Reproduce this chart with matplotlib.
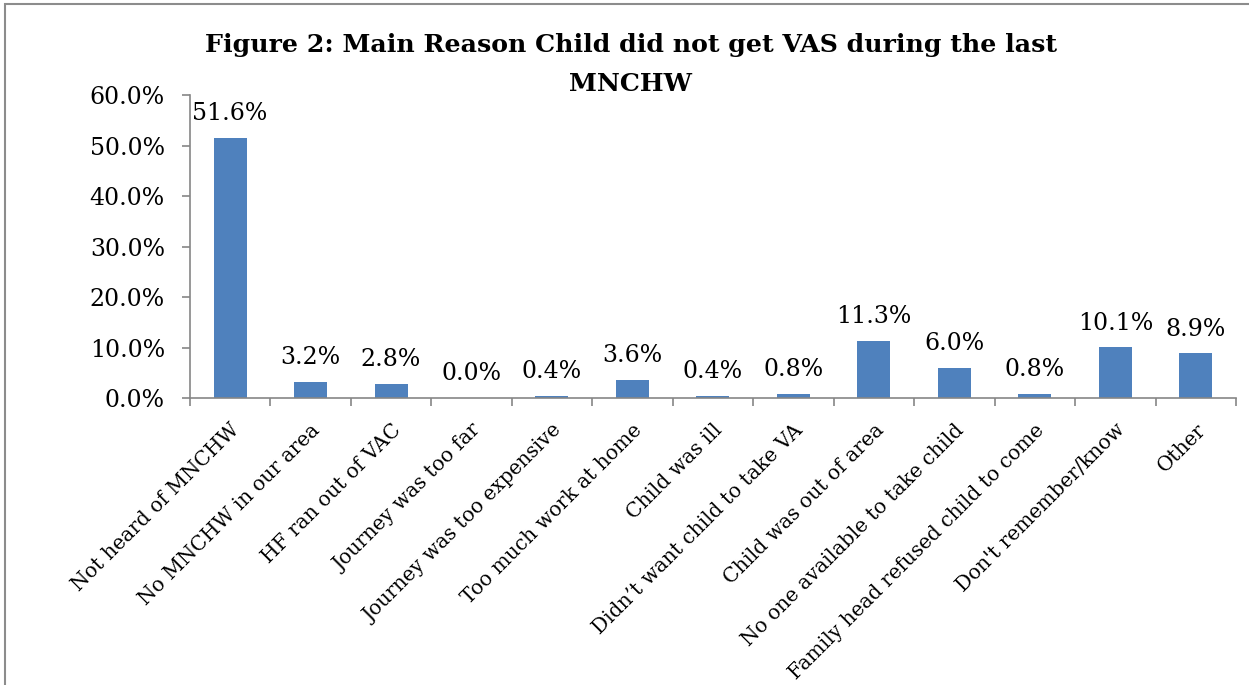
import matplotlib.pyplot as plt
import matplotlib.patches as mpatches
import numpy as np

# --- Data ---
reasons = [
    "Not heard of MNCHW",
    "No MNCHW in our area",
    "HF ran out of VAC",
    "Journey was too far",
    "Journey was too expensive",
    "Too much work at home",
    "Child was ill",
    "Didn\u2019t want child to take VA",
    "Child was out of area",
    "No one available to take child",
    "Family head refused child to come",
    "Don't remember/know",
    "Other",
]
percent = [51.6, 3.2, 2.8, 0.0, 0.4, 3.6, 0.4, 0.8, 11.3, 6.0, 0.8, 10.1, 8.9]
yticks = [0, 10, 20, 30, 40, 50, 60]

bar_color = "#4F81BD"
axis_color = "#868686"
plt.rcParams["font.family"] = ["DejaVu Serif"]

fig = plt.figure(figsize=(12.49, 6.85), dpi=100)
ax = fig.add_axes([0.152, 0.419, 0.8376, 0.442])

x = np.arange(len(reasons))
bars = ax.bar(x, percent, width=0.41, color=bar_color)

for xi, v in zip(x, percent):
    ax.annotate(f"{v:.1f}%", (xi, v), xytext=(0, 9), textcoords="offset points",
                ha="center", va="bottom", fontsize=17)

ax.set_xlim(-0.5, len(reasons) - 0.5)
ax.set_ylim(0, 60)
ax.set_yticks(yticks)
ax.set_yticklabels([f"{t:.1f}%" for t in yticks], fontsize=17)

ax.set_xticks(x)
ax.set_xticklabels(reasons, rotation=45, ha="right", rotation_mode="anchor", fontsize=14.5)
ax.set_xticks(np.arange(-0.5, len(reasons)), minor=True)
ax.tick_params(axis="x", which="major", length=0, pad=16)
ax.tick_params(axis="x", which="minor", length=6, color=axis_color, width=1.2)
ax.tick_params(axis="y", length=6, color=axis_color, width=1.2, pad=12)

for side in ["top", "right"]:
    ax.spines[side].set_visible(False)
for side in ["left", "bottom"]:
    ax.spines[side].set_color(axis_color)
    ax.spines[side].set_linewidth(1.2)

fig.text(0.505, 0.934, "Figure 2: Main Reason Child did not get VAS during the last",
         ha="center", va="center", fontsize=18.2, fontweight="bold")
fig.text(0.505, 0.877, "MNCHW", ha="center", va="center", fontsize=18.2, fontweight="bold")

# outer chart frame (cut off at right and bottom)
frame = mpatches.Rectangle((5 / 1249, -0.1), 1.2, 1 - 4 / 685 + 0.1, transform=fig.transFigure,
                           fill=False, edgecolor="#8c8c8c", linewidth=1.5)
fig.patches.append(frame)

fig.savefig("out.png", dpi=100)
